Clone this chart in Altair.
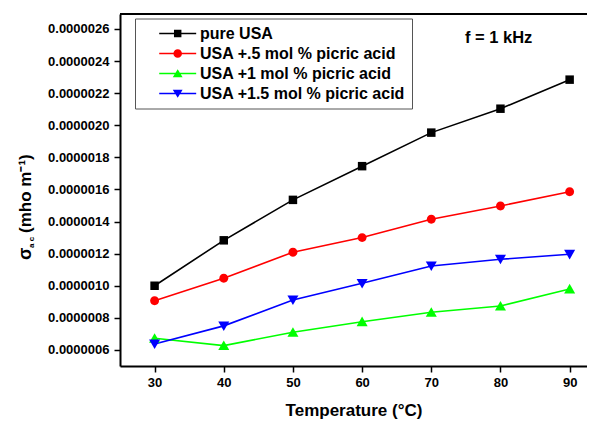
import altair as alt
import pandas as pd

FONT = "Liberation Sans"

temps = [30, 40, 50, 60, 70, 80, 90]
series_names = [
    "pure USA",
    "USA +.5 mol % picric acid",
    "USA +1 mol % picric acid",
    "USA +1.5 mol % picric acid",
]
pure_usa = [1.000e-6, 1.283e-6, 1.535e-6, 1.745e-6, 1.954e-6, 2.103e-6, 2.284e-6]
usa_05 = [0.907e-6, 1.047e-6, 1.209e-6, 1.300e-6, 1.414e-6, 1.497e-6, 1.586e-6]
usa_10 = [0.673e-6, 0.627e-6, 0.710e-6, 0.776e-6, 0.835e-6, 0.874e-6, 0.980e-6]
usa_15 = [0.637e-6, 0.750e-6, 0.911e-6, 1.015e-6, 1.123e-6, 1.165e-6, 1.196e-6]
colors = ["#000000", "#ff0000", "#00ff00", "#0000ff"]
# data markers (custom paths, unit = sqrt(size)/2)
shapes = [
    "M-1,-1H1V1H-1Z",
    "M-1.05,0A1.05,1.05 0 1,1 1.05,0A1.05,1.05 0 1,1 -1.05,0Z",
    "M0,-1.2L1.3,1.05L-1.3,1.05Z",
    "M-1.3,-1.05L1.3,-1.05L0,1.2Z",
]
y_ticks = [6e-7, 8e-7, 1.0e-6, 1.2e-6, 1.4e-6, 1.6e-6, 1.8e-6, 2.0e-6, 2.2e-6, 2.4e-6, 2.6e-6]

annot_text = ["f = 1 kHz"]
annot_x = [79.73]
annot_y = [2.544e-6]

rows = []
for name, vals in zip(series_names, [pure_usa, usa_05, usa_10, usa_15]):
    for t, v in zip(temps, vals):
        rows.append({"temp": t, "sigma": v, "series": name, "Series": name})
df = pd.DataFrame(rows)

# legend symbols: line through marker (custom paths, unit = sqrt(size)/2)
line = "M-3.08,-0.14H3.08V0.14H-3.08Z"
leg_shapes = [
    line + "M-0.62,-0.62H0.62V0.62H-0.62Z",
    line + "M-0.72,0A0.72,0.72 0 1,1 0.72,0A0.72,0.72 0 1,1 -0.72,0Z",
    line + "M0,-0.7L0.82,0.64L-0.82,0.64Z",
    line + "M-0.82,-0.64L0.82,-0.64L0,0.7Z",
]

W, H = 467, 352
xscale = alt.Scale(domain=[25, 92.51], nice=False, zero=False)
yscale = alt.Scale(domain=[0.5e-6, 2.693e-6], nice=False, zero=False)

xaxis = alt.Axis(
    values=temps, title="Temperature (°C)", titleFontSize=17, titleFontWeight="bold",
    titleFont=FONT, titleColor="black", titlePadding=13,
    labelFont=FONT, labelFontSize=13, labelFontWeight="bold", labelColor="black",
    labelPadding=4, tickSize=6, tickWidth=1.5, tickColor="black",
    domainColor="black", domainWidth=2, grid=False, labelOverlap=False, labelFlush=False,
)
yaxis = alt.Axis(
    values=y_ticks, format=".7f", title=None,
    labelFont=FONT, labelFontSize=13, labelFontWeight="bold", labelColor="black",
    labelPadding=5, tickSize=6, tickWidth=1.5, tickColor="black",
    domainColor="black", domainWidth=2, grid=False, labelOverlap=False, labelFlush=False,
)

base = alt.Chart(df)
x = alt.X("temp:Q", scale=xscale, axis=xaxis)
y = alt.Y("sigma:Q", scale=yscale, axis=yaxis)

lines = base.mark_line(strokeWidth=1.6).encode(
    x=x, y=y,
    color=alt.Color("series:N", scale=alt.Scale(domain=series_names, range=colors), legend=None),
    detail="series:N",
)
points = base.mark_point(filled=True, opacity=1, size=72).encode(
    x=x, y=y,
    color=alt.Color("series:N", scale=alt.Scale(domain=series_names, range=colors), legend=None),
    shape=alt.Shape("series:N", scale=alt.Scale(domain=series_names, range=shapes), legend=None),
)

leg = alt.Legend(
    orient="none", legendX=15, legendY=4.5, title=None,
    labelFont=FONT, labelFontSize=16, labelFontWeight="bold", labelColor="black",
    labelLimit=400, labelOffset=14.3, symbolOffset=27.7, symbolSize=144,
    symbolStrokeWidth=0, strokeColor="#555555", fillColor="white",
    padding=7, rowPadding=4,
)
legend_layer = base.transform_filter(alt.datum.temp < 0).mark_point(filled=True, opacity=1).encode(
    color=alt.Color("Series:N", scale=alt.Scale(domain=series_names, range=colors), legend=leg),
    shape=alt.Shape("Series:N", scale=alt.Scale(domain=series_names, range=leg_shapes), legend=leg),
)

top_rule = alt.Chart(pd.DataFrame({"a": [0]})).mark_rule(color="black", strokeWidth=2).encode(
    x=alt.value(0), x2=alt.value(W), y=alt.value(0)
)

annot = alt.Chart(pd.DataFrame({"t": annot_text, "x": annot_x, "y": annot_y})).mark_text(
    font=FONT, fontSize=16.5, fontWeight="bold", color="black", align="center", baseline="middle"
).encode(
    x=alt.X("x:Q", scale=xscale, axis=xaxis),
    y=alt.Y("y:Q", scale=yscale, axis=yaxis),
    text="t:N",
)

ytitle_df = pd.DataFrame({"a": [0]})
sig = alt.Chart(ytitle_df).mark_text(
    text="σ", font=FONT, fontSize=18, fontWeight="bold", color="black",
    angle=270, align="left", baseline="middle"
).encode(x=alt.value(-94), y=alt.value(246))
sub = alt.Chart(ytitle_df).mark_text(
    text="a c", font=FONT, fontSize=8, fontWeight="bold", color="black",
    angle=270, align="left", baseline="middle"
).encode(x=alt.value(-88), y=alt.value(234))
unit = alt.Chart(ytitle_df).mark_text(
    text="(mho m⁻¹)", font=FONT, fontSize=17, fontWeight="bold", color="black",
    angle=270, align="left", baseline="middle"
).encode(x=alt.value(-94), y=alt.value(219))

chart = alt.layer(
    lines, points, legend_layer, top_rule, annot, sig, sub, unit
).resolve_scale(
    color="independent", shape="independent"
).properties(
    width=W, height=H,
    autosize=alt.AutoSizeParams(type="none"),
    padding={"left": 112, "top": 6, "right": 0, "bottom": 57},
).configure_view(stroke=None).configure(background="white")

chart.save("out.html", embed_options={"renderer": "svg", "actions": False})
